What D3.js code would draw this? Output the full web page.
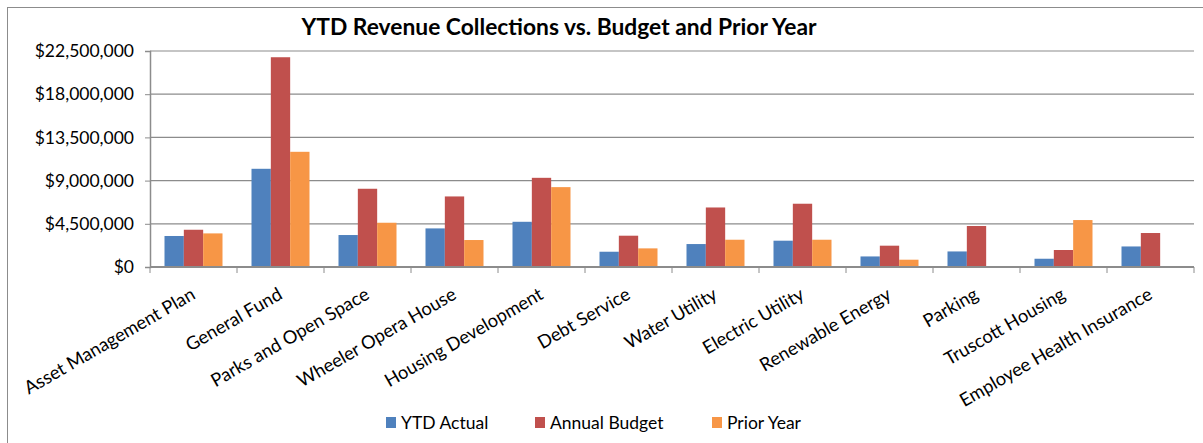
<!DOCTYPE html>
<html>
<head>
<meta charset="utf-8">
<script src="https://cdn.jsdelivr.net/npm/d3@7"></script>
<style>
  body { margin: 0; background: #fff; }
  svg text { font-family: Lato, "Open Sans", sans-serif; fill: #000; }
</style>
</head>
<body>
<div id="chart"></div>
<script>
// categories and series
var categories = [
  "Asset Management Plan", "General Fund", "Parks and Open Space",
  "Wheeler Opera House", "Housing Development", "Debt Service",
  "Water Utility", "Electric Utility", "Renewable Energy",
  "Parking", "Truscott Housing", "Employee Health Insurance"
];
var seriesNames = ["YTD Actual", "Annual Budget", "Prior Year"];
var ytdActual = [3230000, 10230000, 3330000, 4020000, 4710000, 1590000,
                 2390000, 2740000, 1100000, 1620000, 860000, 2140000];
var annualBudget = [3880000, 21850000, 8150000, 7350000, 9290000, 3260000,
                    6200000, 6590000, 2220000, 4270000, 1770000, 3540000];
var priorYear = [3500000, 12000000, 4610000, 2810000, 8320000, 1940000,
                 2840000, 2840000, 760000, 0, 4890000, 0];
var yTicks = [0, 4500000, 9000000, 13500000, 18000000, 22500000];
var colors = ["#4F81BD", "#C0504D", "#F79646"];

var svgWidth = 1203, svgHeight = 443;
var margin = { top: 51, right: 9, bottom: 176, left: 150 };
var width = svgWidth - margin.left - margin.right;
var height = svgHeight - margin.top - margin.bottom;

var svg = d3.select("#chart").append("svg")
  .attr("width", svgWidth)
  .attr("height", svgHeight);

// chart border (right and bottom edges fall outside the picture)
svg.append("rect")
  .attr("x", 7.5).attr("y", 7.5)
  .attr("width", svgWidth).attr("height", svgHeight)
  .attr("fill", "none").attr("stroke", "#8c8c8c");

svg.append("text")
  .attr("x", 559).attr("y", 35)
  .attr("text-anchor", "middle")
  .style("font-size", "22.8px").style("font-weight", "bold")
  .text("YTD Revenue Collections vs. Budget and Prior Year");

var chartGroup = svg.append("g")
  .attr("transform", `translate(${margin.left}, ${margin.top})`);

var x0 = d3.scaleBand().domain(categories).range([0, width]);
var bw = x0.bandwidth();
var x1 = d3.scaleBand().domain(seriesNames).range([bw / 6, bw * 5 / 6]);
var y = d3.scaleLinear().domain([0, 22500000]).range([height, 0]);

// gridlines
chartGroup.append("g")
  .selectAll("line")
  .data(yTicks.slice(1))
  .enter().append("line")
  .attr("x1", 0).attr("x2", width)
  .attr("y1", d => y(d)).attr("y2", d => y(d))
  .attr("stroke", "#8c8c8c").attr("stroke-width", 1.2);

// left axis
var leftAxis = d3.axisLeft(y).tickValues(yTicks).tickSize(5).tickPadding(11)
  .tickFormat(d => "$" + d3.format(",")(d));
var gy = chartGroup.append("g").call(leftAxis);
gy.select(".domain").attr("stroke", "#8c8c8c").attr("stroke-width", 1.5);
gy.selectAll(".tick line").attr("stroke", "#8c8c8c");
gy.selectAll("text").style("font-size", "17.5px");

// bars
var data = categories.map((c, i) => ({
  cat: c,
  vals: [ytdActual[i], annualBudget[i], priorYear[i]]
}));

var groups = chartGroup.selectAll(".grp")
  .data(data)
  .enter().append("g")
  .attr("class", "grp")
  .attr("transform", d => `translate(${x0(d.cat)}, 0)`);

groups.selectAll("rect")
  .data(d => d.vals.map((v, j) => ({ name: seriesNames[j], v: v, j: j })))
  .enter().append("rect")
  .attr("x", d => x1(d.name))
  .attr("width", x1.bandwidth())
  .attr("y", d => y(d.v))
  .attr("height", d => height - y(d.v))
  .attr("fill", d => colors[d.j]);

// bottom axis with ticks at the category boundaries
var gx = chartGroup.append("g").attr("transform", `translate(0, ${height})`);
gx.append("line")
  .attr("x1", 0).attr("x2", width)
  .attr("stroke", "#8c8c8c").attr("stroke-width", 2);
gx.selectAll(".bt")
  .data(d3.range(categories.length + 1))
  .enter().append("line")
  .attr("x1", i => i * bw).attr("x2", i => i * bw)
  .attr("y1", 0).attr("y2", 6)
  .attr("stroke", "#8c8c8c");

gx.selectAll(".lbl")
  .data(categories)
  .enter().append("text")
  .attr("text-anchor", "end")
  .attr("transform", d => `translate(${x0(d) + bw / 2 + 3}, 31) rotate(-30)`)
  .style("font-size", "18.3px")
  .text(d => d);

// legend
var legendX = [386, 535, 712];
var legend = svg.append("g");
seriesNames.forEach(function (name, j) {
  legend.append("rect")
    .attr("x", legendX[j]).attr("y", 417)
    .attr("width", 10).attr("height", 11)
    .attr("fill", colors[j]);
  legend.append("text")
    .attr("x", legendX[j] + 15).attr("y", 429)
    .style("font-size", "17.5px")
    .text(name);
});
</script>
</body>
</html>
